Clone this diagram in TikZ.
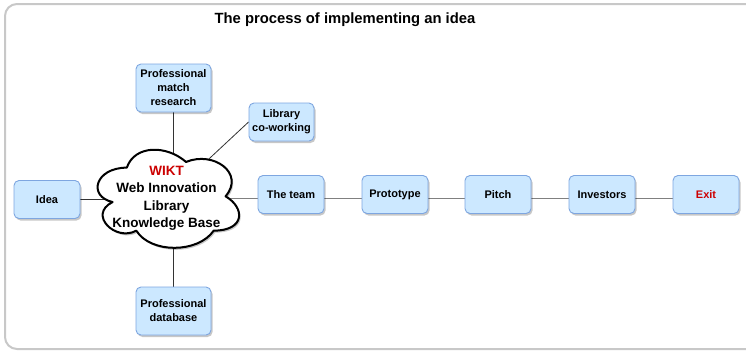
\documentclass[tikz,border=0pt]{standalone}
\usepackage{fontspec}
\setmainfont{Liberation Sans}
\usetikzlibrary{shadows}
\pgfdeclarelayer{background}
\pgfsetlayers{background,main}
\definecolor{boxfill}{HTML}{CCE8FF}
\definecolor{boxline}{HTML}{7EA6E0}
\definecolor{framecol}{HTML}{C8C8C8}
\definecolor{wiktred}{HTML}{CC0000}
\definecolor{chainline}{HTML}{808080}
\def\wiktcloud{(39.5,28.6) .. controls (7.9,28.6) and (0,57.25) .. (25.3,63)
  .. controls (0,75.6) and (28.4,103) .. (49,91.6)
  .. controls (63.2,114.5) and (110.6,114.5) .. (126.4,91.6)
  .. controls (158,91.6) and (158,68.7) .. (138.25,57.25)
  .. controls (158,34.35) and (126.4,11.45) .. (98.75,22.9)
  .. controls (79,5.725) and (47.4,5.725) .. (39.5,28.6) -- cycle}
\begin{document}
\begin{tikzpicture}[x=1pt,y=-1pt,
  box/.style={draw=boxline, fill=boxfill, line width=0.9pt, rounded corners=5pt,
    minimum width=66pt, minimum height=38pt, align=center, inner sep=1pt,
    font=\fontsize{11}{14}\selectfont\bfseries,
    drop shadow={shadow xshift=1.5pt, shadow yshift=-2pt, fill=black, opacity=0.22}},
  tallbox/.style={box, minimum width=75pt, minimum height=48pt},
  chain/.style={draw=chainline, line width=1.3pt},
  link/.style={draw=black!80, line width=0.8pt},
  kbnode/.style={minimum width=158pt, minimum height=114.5pt, inner sep=0pt,
    align=center, font=\fontsize{13.5}{17.5}\selectfont\bfseries},
  cloudline/.style={draw=black, line width=2pt, fill=white, line join=round},
  cloudshadow/.style={fill=black, opacity=0.22},
  titletext/.style={font=\fontsize{14.8}{17}\selectfont\bfseries}
]
\useasboundingbox (0,0) rectangle (746,351);
\begin{pgfonlayer}{background}
  \draw[framecol, line width=2pt, rounded corners=12pt] (5,4) rectangle (760,349);
\end{pgfonlayer}

\node[titletext] (title) at (345,20) {The process of implementing an idea};

\node[kbnode] (kb) at (166.5,198.5) {\textcolor{wiktred}{WIKT}\\Web Innovation\\Library\\Knowledge Base};

\node[box] (idea) at (47,199.5) {Idea};
\node[tallbox] (pmr) at (173.5,88) {Professional\\match\\research};
\node[box, minimum width=65pt] (lib) at (281.5,122) {Library\\co-working};
\node[tallbox] (pdb) at (173.5,311) {Professional\\database};
\node[box] (team) at (291,194.5) {The team};
\node[box] (proto) at (395,194.5) {Prototype};
\node[box] (pitch) at (498,194.5) {Pitch};
\node[box] (inv) at (602,194.5) {Investors};
\node[box] (exit) at (706,194.5) {\textcolor{wiktred}{Exit}};

\begin{pgfonlayer}{background}
  \path[link] (idea.east) -- (idea.east -| kb.center);
  \path[link] (pmr.south) -- (pmr.south |- kb.center);
  \path[link] (pdb.north) -- (pdb.north |- kb.center);
  \path[link] (lib.west) -- (kb.center);
  \path[chain] ([yshift=-4pt]team.west) -- ([yshift=-4pt]team.west -| kb.center);
  \path[chain] ([yshift=-4pt]team.east) -- ([yshift=-4pt]proto.west);
  \path[chain] ([yshift=-4pt]proto.east) -- ([yshift=-4pt]pitch.west);
  \path[chain] ([yshift=-4pt]pitch.east) -- ([yshift=-4pt]inv.west);
  \path[chain] ([yshift=-4pt]inv.east) -- ([yshift=-4pt]exit.west);
  \begin{scope}[shift={(kb.north west)}, shift={(0,-2)}]
    \path[cloudshadow, shift={(1.5,2)}] \wiktcloud;
    \path[cloudline] \wiktcloud;
  \end{scope}
\end{pgfonlayer}
\end{tikzpicture}
\end{document}
